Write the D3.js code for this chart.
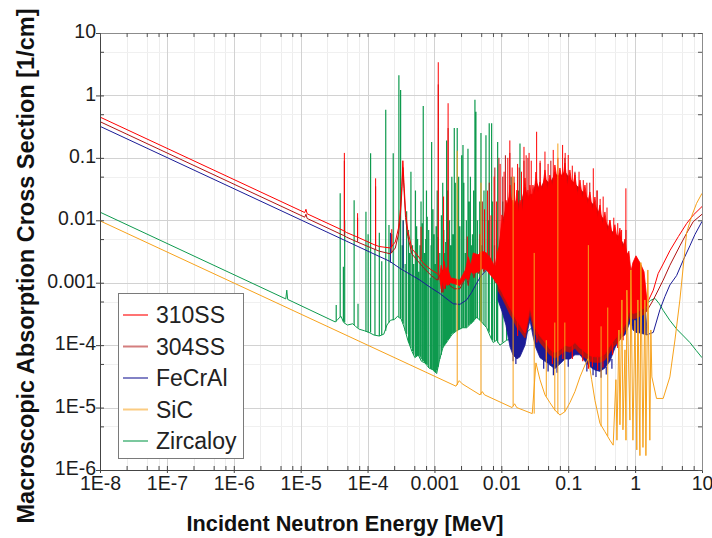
<!DOCTYPE html>
<html>
<head>
<meta charset="utf-8">
<script src="https://cdn.jsdelivr.net/npm/d3@7"></script>
<style>
  body { margin: 0; background: #fff; }
  svg { display: block; font-family: "Liberation Sans", Arial, sans-serif; }
</style>
</head>
<body>
<svg id="chart" width="712" height="538"></svg>
<script>
// ---- axis ticks ----
const xTickValues = [1e-8, 1e-7, 1e-6, 1e-5, 1e-4, 1e-3, 1e-2, 1e-1, 1, 10];
const xTickLabels = ["1E-8", "1E-7", "1E-6", "1E-5", "1E-4", "0.001", "0.01", "0.1", "1", "10"];
const yTickValues = [1e-6, 1e-5, 1e-4, 1e-3, 1e-2, 1e-1, 1, 10];
const yTickLabels = ["1E-6", "1E-5", "1E-4", "0.001", "0.01", "0.1", "1", "10"];
const xMinorSteps = [2.5, 5, 7.5];
const yMinorSteps = [5];

// ---- series ----
const seriesNames = ["310SS", "304SS", "FeCrAl", "SiC", "Zircaloy"];
const seriesColors = ["#ff0000", "#b01414", "#1b1b96", "#f7a21b", "#0e9a4e"];

// 310SS: [energy MeV, sigma 1/cm]
const s310Low = [
  [1e-8, 0.45], [1.15e-5, 0.0133], [1.2e-5, 0.015], [1.25e-5, 0.0127], [4.4e-5, 0.0068],
  [4.8e-5, 0.0064], [7.0e-5, 0.0054], [1.3e-4, 0.0040], [1.5e-4, 0.0038], [2.2e-4, 0.0036],
  [2.6e-4, 0.0045], [2.9e-4, 0.0075], [3.1e-4, 0.015], [3.25e-4, 0.035], [3.37e-4, 0.09],
  [3.5e-4, 0.04], [3.7e-4, 0.014], [4.0e-4, 0.0068], [4.6e-4, 0.0035], [5.5e-4, 0.0028],
  [7.0e-4, 0.0020], [9.0e-4, 0.0016], [1.1e-3, 0.0014], [1.2e-3, 0.00125]
];
const s310High = [
  [1.5, 4.6e-4], [1.87, 7.6e-4], [2.21, 1.4e-3], [2.63, 2.0e-3], [3.33, 3.3e-3],
  [4.44, 5.5e-3], [5.9, 8.9e-3], [7.4, 0.0121], [10, 0.0166]
];
// dense resonance region: [energy, low, high]
const s310Band = [
  [1.2e-3, 0.0012, 0.0013], [1.26e-3, 0.0008, 0.0019], [1.33e-3, 0.0011, 0.0014], [1.4e-3, 0.0008, 0.0022],
  [1.48e-3, 0.0010, 0.0015], [1.55e-3, 0.0009, 0.0018], [1.75e-3, 0.0010, 0.0012], [2.4e-3, 0.0009, 0.0011],
  [2.9e-3, 0.0012, 0.0016], [3.2e-3, 0.0011, 0.0026], [3.5e-3, 0.0015, 0.0019], [3.8e-3, 0.0014, 0.0030],
  [4.5e-3, 0.0015, 0.0028], [5.2e-3, 0.0017, 0.0032], [6.0e-3, 0.0016, 0.0030], [7.0e-3, 0.0013, 0.0024],
  [8.0e-3, 0.0011, 0.0018],
  [0.0089, 9.2e-4, 0.0033], [0.0095, 8e-4, 0.004], [0.0102, 7.1e-4, 0.0122], [0.0109, 6e-4, 0.008],
  [0.0117, 5.3e-4, 0.0211], [0.0126, 4.5e-4, 0.016], [0.0135, 3.9e-4, 0.0367], [0.0142, 3.6e-4, 0.018],
  [0.0149, 3.2e-4, 0.0211], [0.016, 2.8e-4, 0.014], [0.0171, 2.4e-4, 0.0305], [0.018, 2.3e-4, 0.013],
  [0.0190, 2.1e-4, 0.0211], [0.0207, 1.8e-4, 0.014], [0.0226, 1.57e-4, 0.0476], [0.0238, 2.0e-4, 0.02],
  [0.0250, 2.7e-4, 0.0305], [0.0259, 3.4e-4, 0.02], [0.0268, 4.1e-4, 0.0367], [0.0282, 3.2e-4, 0.02],
  [0.0297, 2.5e-4, 0.0367], [0.0313, 2.1e-4, 0.025], [0.0329, 1.8e-4, 0.0593], [0.0353, 1.6e-4, 0.028],
  [0.0378, 1.4e-4, 0.041], [0.0412, 1.25e-4, 0.03], [0.0449, 1.1e-4, 0.064], [0.0489, 1.0e-4, 0.03],
  [0.0532, 8.6e-5, 0.0531], [0.058, 8e-5, 0.035], [0.0632, 7.6e-5, 0.0769], [0.069, 8e-5, 0.04],
  [0.0752, 8.5e-5, 0.0689], [0.082, 9e-5, 0.04], [0.0893, 1.0e-4, 0.0828], [0.097, 9.7e-5, 0.035],
  [0.106, 9.5e-5, 0.064], [0.1155, 1.0e-4, 0.032], [0.126, 1.1e-4, 0.0531], [0.1375, 1.0e-4, 0.026],
  [0.150, 9.0e-5, 0.0442], [0.163, 8.5e-5, 0.022], [0.178, 7.8e-5, 0.0367], [0.194, 7.3e-5, 0.018],
  [0.211, 6.8e-5, 0.0284], [0.23, 6.6e-5, 0.014], [0.251, 6.5e-5, 0.0236], [0.273, 6.5e-5, 0.011],
  [0.298, 6.5e-5, 0.0176], [0.325, 6.8e-5, 0.0085], [0.354, 7.2e-5, 0.0136], [0.386, 8.5e-5, 0.0065],
  [0.420, 9.7e-5, 0.0101], [0.458, 1.1e-4, 0.0055], [0.499, 1.25e-4, 0.0085], [0.544, 1.4e-4, 0.0045],
  [0.593, 1.5e-4, 0.0075], [0.647, 1.8e-4, 0.0035], [0.705, 2.1e-4, 0.005], [0.754, 2.6e-4, 0.0028],
  [0.807, 3.2e-4, 0.0032], [0.865, 3.9e-4, 0.0015], [0.927, 3.2e-4, 0.0021], [1.03, 3.3e-4, 0.0027],
  [1.18, 3.6e-4, 0.0021], [1.36, 3.9e-4, 0.0015], [1.50, 4.4e-4, 5.3e-4]
];
// narrow resonances: [energy, base, peak]
const s310Peaks = [
  [4.5e-5, 0.0066, 0.12], [7.1e-5, 0.0054, 0.013], [1.32e-4, 0.0040, 0.047], [2.3e-4, 0.0037, 0.0072],
  [6.3e-4, 0.0024, 0.0079], [1.14e-3, 0.0014, 3.4], [1.37e-3, 0.0012, 0.024], [1.6e-3, 0.0013, 0.75],
  [3.1e-3, 0.0014, 0.0055], [4.8e-3, 0.002, 0.006], [5.6e-3, 0.002, 0.015], [6.2e-3, 0.002, 0.03],
  [7.0e-3, 0.0016, 0.012], [7.8e-3, 0.0014, 0.05], [8.5e-3, 0.0013, 0.02], [0.0096, 0.003, 0.08],
  [0.011, 0.005, 0.06], [0.0125, 0.01, 0.1], [0.0134, 0.01, 0.19], [0.0145, 0.01, 0.07],
  [0.0157, 0.01, 0.04], [0.0175, 0.01, 0.08], [0.02, 0.01, 0.06], [0.0218, 0.01, 0.15],
  [0.0235, 0.01, 0.11], [0.026, 0.02, 0.12], [0.028, 0.02, 0.09],
  [0.0337, 0.03, 0.262], [0.038, 0.03, 0.09], [0.0449, 0.03, 0.126], [0.05, 0.03, 0.08],
  [0.0597, 0.04, 0.134], [0.07, 0.04, 0.10], [0.0824, 0.04, 0.161], [0.09, 0.04, 0.12],
  [0.100, 0.04, 0.111], [0.115, 0.03, 0.075], [0.126, 0.03, 0.057], [0.145, 0.03, 0.06],
  [0.168, 0.02, 0.044], [0.19, 0.02, 0.04], [0.237, 0.015, 0.068], [0.27, 0.012, 0.03],
  [0.3, 0.012, 0.022], [0.333, 0.01, 0.024], [0.38, 0.008, 0.016], [0.42, 0.007, 0.0101],
  [0.48, 0.006, 0.011], [0.55, 0.005, 0.009], [0.628, 0.004, 0.007], [0.728, 0.003, 0.0325]
];
// deep minima below the band: [energy, from, to]
const s310Troughs = [
  [0.0175, 3e-4, 1.4e-4], [0.034, 2e-4, 1.1e-4], [0.047, 1.1e-4, 6e-5], [0.058, 9e-5, 5e-5],
  [0.07, 9e-5, 5.5e-5], [0.083, 1e-4, 6e-5], [0.115, 1e-4, 6e-5], [0.165, 9e-5, 5.5e-5],
  [0.2, 7e-5, 4.2e-5], [0.23, 7e-5, 4.5e-5], [0.275, 6.5e-5, 4e-5], [0.33, 7e-5, 4.4e-5],
  [0.39, 9e-5, 5.5e-5], [0.46, 1.1e-4, 7e-5], [0.55, 1.4e-4, 9e-5], [0.66, 1.8e-4, 1.2e-4]
];

// 304SS
const s304Low = [
  [1e-8, 0.38], [1.15e-5, 0.0112], [1.2e-5, 0.0125], [1.25e-5, 0.0107], [4.4e-5, 0.0057],
  [4.8e-5, 0.0054], [7.0e-5, 0.0045], [1.3e-4, 0.0034], [1.5e-4, 0.0032], [2.2e-4, 0.0029],
  [2.6e-4, 0.0036], [2.9e-4, 0.006], [3.1e-4, 0.012], [3.25e-4, 0.028], [3.37e-4, 0.07],
  [3.5e-4, 0.032], [3.7e-4, 0.011], [4.0e-4, 0.0055], [4.6e-4, 0.0029], [5.5e-4, 0.0023],
  [7.0e-4, 0.0017], [9.0e-4, 0.0013], [1.1e-3, 0.0011], [1.25e-3, 0.0014], [1.28e-3, 0.0007],
  [1.31e-3, 0.0016], [1.34e-3, 0.0007], [1.4e-3, 0.0017], [1.45e-3, 0.0008], [1.5e-3, 0.0015],
  [1.7e-3, 0.0009], [2.0e-3, 0.0008], [2.4e-3, 0.0008], [2.8e-3, 0.0011], [3.0e-3, 0.0013],
  [3.2e-3, 0.0009], [3.5e-3, 0.0018], [3.9e-3, 0.0012], [4.2e-3, 0.0018], [4.6e-3, 0.0014],
  [5.0e-3, 0.0020], [5.5e-3, 0.0015], [6.0e-3, 0.0020], [6.6e-3, 0.0014], [7.4e-3, 0.0013],
  [8.2e-3, 0.0010], [8.9e-3, 0.0011]
];
const s304High = [
  [1.49, 3.5e-4], [1.87, 5.3e-4], [2.63, 1.1e-3], [3.31, 1.9e-3], [4.67, 3.9e-3],
  [5.89, 6.2e-3], [7.39, 9.5e-3], [10, 0.0125]
];
const s304Band = [
  [0.0089, 7.6e-4, 0.0026], [0.0102, 5.8e-4, 0.009], [0.0117, 4.3e-4, 0.015], [0.0135, 3.1e-4, 0.026],
  [0.0149, 2.6e-4, 0.016], [0.0171, 1.9e-4, 0.022], [0.0190, 1.7e-4, 0.016], [0.0226, 1.3e-4, 0.034],
  [0.0250, 2.2e-4, 0.022], [0.0268, 3.3e-4, 0.026], [0.0297, 2.0e-4, 0.026], [0.0329, 1.45e-4, 0.042],
  [0.0378, 1.1e-4, 0.03], [0.0449, 8.8e-5, 0.046], [0.0532, 7.0e-5, 0.038], [0.0632, 6.2e-5, 0.055],
  [0.0752, 6.9e-5, 0.05], [0.0893, 8.1e-5, 0.06], [0.106, 7.7e-5, 0.046], [0.126, 8.9e-5, 0.038],
  [0.150, 7.3e-5, 0.032], [0.178, 6.3e-5, 0.026], [0.211, 5.5e-5, 0.02], [0.251, 5.3e-5, 0.017],
  [0.298, 5.3e-5, 0.0125], [0.354, 5.8e-5, 0.0097], [0.420, 7.8e-5, 0.0072], [0.499, 1.0e-4, 0.0060],
  [0.593, 1.2e-4, 0.0054], [0.705, 1.7e-4, 0.0036], [0.807, 2.6e-4, 0.0023], [0.865, 3.1e-4, 0.0011],
  [0.927, 2.6e-4, 0.0015], [1.03, 2.7e-4, 0.0019], [1.18, 2.9e-4, 0.0015], [1.36, 3.1e-4, 0.0011],
  [1.49, 3.5e-4, 4.0e-4]
];
const s304Peaks = [
  [4.5e-5, 0.0056, 0.09], [7.1e-5, 0.0045, 0.011], [1.32e-4, 0.0034, 0.035], [2.3e-4, 0.003, 0.006],
  [1.14e-3, 0.0011, 1.5], [1.6e-3, 0.001, 0.3], [5.2e-3, 0.0018, 0.02], [6.6e-3, 0.0015, 0.04],
  [8.0e-3, 0.0012, 0.07], [9.2e-3, 0.002, 0.1], [0.0105, 0.004, 0.05], [0.0115, 0.005, 0.11],
  [0.0134, 0.008, 0.12], [0.0155, 0.008, 0.05], [0.0185, 0.008, 0.07], [0.0218, 0.008, 0.09],
  [0.025, 0.015, 0.1], [0.038, 0.02, 0.083], [0.055, 0.02, 0.09], [0.089, 0.03, 0.1],
  [0.126, 0.03, 0.06], [0.21, 0.015, 0.04], [0.27, 0.012, 0.03], [0.73, 0.003, 0.007]
];

// FeCrAl
const feLow = [
  [1e-8, 0.32], [2.15e-4, 0.0022], [3.05e-4, 0.0017], [6.07e-4, 0.0011], [9e-4, 8.2e-4],
  [1.21e-3, 6.7e-4], [1.6e-3, 5.3e-4], [1.91e-3, 4.6e-4], [2.4e-3, 4.5e-4], [3.03e-3, 5.3e-4],
  [3.6e-3, 7e-4], [4.27e-3, 9.8e-4], [5e-3, 1.3e-3], [6.03e-3, 1.6e-3], [7.57e-3, 1.6e-3],
  [8.2e-3, 1.2e-3], [8.9e-3, 9e-4]
];
const feHigh = [
  [1.49, 1.46e-4], [1.87, 1.6e-4], [2.35, 3.7e-4], [2.79, 6.0e-4], [3.31, 9.2e-4],
  [4.17, 1.3e-3], [5.24, 2.3e-3], [6.59, 3.9e-3], [7.83, 5.9e-3], [10, 9.6e-3]
];
const feBand = [
  [0.0089, 5.3e-4, 0.0012], [0.0102, 3.5e-4, 0.005], [0.0117, 2.1e-4, 0.009], [0.0135, 9.3e-5, 0.014],
  [0.0149, 7e-5, 0.009], [0.0171, 6e-5, 0.012], [0.0190, 6.5e-5, 0.009], [0.0226, 1.0e-4, 0.018],
  [0.0250, 1.8e-4, 0.012], [0.0268, 2.5e-4, 0.014], [0.0297, 1.4e-4, 0.014], [0.0329, 9e-5, 0.022],
  [0.0378, 6.3e-5, 0.016], [0.0449, 5.5e-5, 0.024], [0.0532, 4.8e-5, 0.02], [0.0632, 4.2e-5, 0.028],
  [0.0752, 5e-5, 0.026], [0.0893, 6e-5, 0.03], [0.106, 6e-5, 0.024], [0.126, 7e-5, 0.02],
  [0.150, 7e-5, 0.016], [0.178, 5.5e-5, 0.013], [0.211, 4.5e-5, 0.01], [0.251, 4e-5, 0.0085],
  [0.298, 3.8e-5, 0.0065], [0.354, 4.3e-5, 0.005], [0.420, 5.5e-5, 0.0038], [0.499, 9e-5, 0.0028],
  [0.593, 1.3e-4, 0.0028], [0.705, 1.46e-4, 0.002], [0.807, 2.1e-4, 0.0014], [0.865, 2.5e-4, 7e-4],
  [0.927, 1.75e-4, 9e-4], [1.03, 1.6e-4, 0.0011], [1.18, 1.57e-4, 9e-4], [1.36, 1.5e-4, 7e-4],
  [1.49, 1.46e-4, 2e-4]
];
const fePeaks = [
  [2.2e-4, 0.0021, 0.0063], [3.4e-4, 0.0017, 0.01]
];
const feTroughs = [
  [0.015, 8e-5, 5.5e-5], [0.0165, 7e-5, 5e-5], [0.043, 6e-5, 4.2e-5], [0.05, 5e-5, 3.8e-5],
  [0.06, 4.5e-5, 3.3e-5], [0.068, 5e-5, 3.6e-5], [0.1, 6e-5, 4.5e-5], [0.19, 5.5e-5, 3.8e-5],
  [0.235, 4.5e-5, 3.3e-5], [0.26, 4e-5, 3.1e-5], [0.31, 4e-5, 3.0e-5], [0.37, 4.5e-5, 3.4e-5],
  [0.45, 6e-5, 4.2e-5]
];

// SiC
const sicCurve = [
  [1e-8, 0.0098], [2.1e-3, 2.2e-5], [2.35e-3, 2.7e-5], [2.6e-3, 2.4e-5], [4.8e-3, 1.6e-5],
  [5.2e-3, 1.8e-5], [5.6e-3, 1.6e-5], [0.0145, 1.0e-5], [0.0158, 1.15e-5], [0.017, 1.0e-5],
  [0.029, 8e-6], [0.0329, 5.2e-5], [0.0378, 2.8e-5], [0.0449, 1.6e-5], [0.0532, 1.2e-5],
  [0.0632, 9.1e-6], [0.0752, 7.6e-6], [0.0893, 8.6e-6], [0.106, 1.2e-5], [0.126, 1.8e-5],
  [0.150, 3.1e-5], [0.178, 4.8e-5], [0.2, 6.2e-5], [0.224, 2.8e-5], [0.251, 1.3e-5],
  [0.298, 5.6e-6], [0.354, 4.1e-6], [0.42, 3.0e-6], [0.47, 2.5e-6], [0.516, 2.8e-5],
  [0.535, 3.0e-6], [0.573, 1.75e-4], [0.593, 5.3e-6], [0.635, 5.3e-4], [0.658, 4.4e-6],
  [0.705, 8.4e-5], [0.73, 3.0e-6], [0.753, 7.6e-4], [0.836, 6.3e-6], [0.865, 1.6e-3],
  [0.927, 3.0e-6], [0.993, 2.5e-4], [1.06, 2.1e-6], [1.10, 5.3e-4], [1.18, 1.7e-6],
  [1.22, 2.1e-3], [1.31, 2.3e-6], [1.40, 5.3e-4], [1.45, 1.7e-6], [1.55, 1.6e-3],
  [1.66, 3.0e-6], [1.72, 1.75e-4], [1.78, 3.1e-5], [2.09, 1.4e-5], [2.63, 1.4e-5],
  [3.31, 3.1e-5], [3.94, 1.21e-4], [4.67, 5.3e-4], [5.89, 6.3e-3], [6.98, 0.0115],
  [8.3, 0.0187], [10, 0.027]
];
const sicPeaks = [
  [2.19e-3, 2.3e-5, 0.13], [4.96e-3, 1.6e-5, 0.04], [0.015, 1.05e-5, 0.05], [0.031, 8e-6, 0.003],
  [0.047, 1.5e-5, 1.2e-4], [0.063, 9e-6, 2.3e-4], [0.07, 8e-6, 0.17], [0.089, 8.6e-6, 2.3e-4],
  [0.2, 6.2e-5, 0.004], [0.31, 5e-6, 2e-4], [0.39, 3.5e-6, 4e-4]
];

// Zircaloy
const zircCurve = [
  [1e-8, 0.0135], [6.0e-6, 5.5e-4], [6.2e-6, 7.6e-4], [6.4e-6, 5.4e-4], [3.3e-5, 2.35e-4],
  [3.6e-5, 2.6e-4], [4.0e-5, 2.9e-4], [4.4e-5, 2.3e-4], [5.0e-5, 2.1e-4], [6.0e-5, 2.2e-4],
  [6.6e-5, 2.0e-4], [7.5e-5, 1.8e-4], [9.0e-5, 1.7e-4], [1.05e-4, 1.6e-4], [1.25e-4, 1.45e-4],
  [1.5e-4, 1.4e-4], [1.75e-4, 1.5e-4], [1.95e-4, 2.1e-4], [2.2e-4, 2.5e-4], [2.55e-4, 2.6e-4],
  [2.8e-4, 2.9e-4], [3.2e-4, 2.6e-4], [3.6e-4, 1.8e-4], [4.0e-4, 1.2e-4], [4.6e-4, 8e-5],
  [5.1e-4, 6.3e-5], [5.7e-4, 7e-5], [6.4e-4, 5.5e-5], [7.2e-4, 5.2e-5], [8.3e-4, 4.3e-5],
  [9.6e-4, 4e-5], [1.08e-3, 3.5e-5], [1.2e-3, 6e-5], [1.35e-3, 9.4e-5], [1.6e-3, 1.2e-4],
  [1.85e-3, 1.5e-4], [2.15e-3, 1.7e-4], [2.6e-3, 1.9e-4], [3.03e-3, 1.9e-4], [3.5e-3, 2.2e-4],
  [4.27e-3, 2.8e-4], [5.0e-3, 2.4e-4], [6.03e-3, 1.9e-4], [7.0e-3, 1.3e-4], [7.57e-3, 1.1e-4],
  [8.5e-3, 1.2e-4], [9.53e-3, 1.0e-4], [0.012, 1.2e-4], [0.016, 1.3e-4], [0.021, 1.4e-4],
  [0.03, 2e-4], [0.06, 2.5e-4], [0.2, 3e-4], [0.6, 3.5e-4], [1.2, 4e-4], [1.49, 4.6e-4],
  [1.7, 5.2e-4], [1.98, 5.6e-4], [2.3, 4.6e-4], [2.63, 3.6e-4], [3.3, 2.5e-4], [4.2, 1.8e-4],
  [5.3, 1.4e-4], [6.6, 1.1e-4], [8.2, 8.2e-5], [10, 6.3e-5]
];
const zircPeaks = [
  [3.4e-5, 2.4e-4, 4.4e-4], [3.9e-5, 2.8e-4, 0.027], [4.35e-5, 2.4e-4, 1.8e-3], [4.55e-5, 2.3e-4, 0.010],
  [6.3e-5, 2.1e-4, 0.021], [7.2e-5, 1.9e-4, 4.6e-4], [9.46e-5, 1.65e-4, 0.0137], [1.02e-4, 1.6e-4, 0.006],
  [1.11e-4, 1.6e-4, 0.118], [1.29e-4, 1.45e-4, 0.0035], [1.5e-4, 1.4e-4, 0.0063], [1.63e-4, 1.45e-4, 0.0022],
  [1.87e-4, 1.7e-4, 0.59], [2.09e-4, 2.3e-4, 0.0084], [2.42e-4, 2.5e-4, 0.118], [2.94e-4, 2.8e-4, 2.1],
  [3.12e-4, 2.7e-4, 1.22], [3.3e-4, 2.4e-4, 0.004], [3.42e-4, 2.2e-4, 0.010], [3.65e-4, 1.7e-4, 0.002],
  [3.84e-4, 1.5e-4, 0.014], [4.1e-4, 1.1e-4, 0.007], [4.25e-4, 1e-4, 0.003], [4.45e-4, 9e-5, 0.06],
  [4.7e-4, 8e-5, 0.004], [4.9e-4, 7e-5, 0.002], [5.2e-4, 6.5e-5, 0.03], [5.42e-4, 6.5e-5, 0.008],
  [5.6e-4, 6.8e-5, 0.005], [5.8e-4, 6.8e-5, 0.0015], [6.07e-4, 6.5e-5, 0.004], [6.3e-4, 6e-5, 0.02],
  [6.6e-4, 5.6e-5, 0.009], [6.8e-4, 5.5e-5, 0.68], [7.1e-4, 5.2e-5, 0.003], [7.4e-4, 5e-5, 0.005],
  [7.6e-4, 5e-5, 0.03], [7.8e-4, 4.8e-5, 0.0114], [8.2e-4, 4.4e-5, 0.007], [8.7e-4, 4.2e-5, 0.0012],
  [8.9e-4, 4.2e-5, 0.004], [9.08e-4, 4.1e-5, 0.18], [9.5e-4, 4e-5, 0.015], [9.9e-4, 3.8e-5, 0.006],
  [1.03e-3, 3.7e-5, 0.002], [1.06e-3, 3.6e-5, 0.008], [1.1e-3, 4e-5, 0.03], [1.14e-3, 4.5e-5, 0.0054],
  [1.2e-3, 6e-5, 0.003], [1.27e-3, 7e-5, 0.012], [1.33e-3, 9e-5, 0.04], [1.38e-3, 9.5e-5, 0.007],
  [1.42e-3, 1e-4, 0.003], [1.47e-3, 1.05e-4, 0.0045], [1.52e-3, 1.1e-4, 0.19], [1.58e-3, 1.2e-4, 0.03],
  [1.63e-3, 1.25e-4, 0.005], [1.68e-3, 1.3e-4, 0.010], [1.75e-3, 1.4e-4, 0.004], [1.82e-3, 1.5e-4, 0.05],
  [1.9e-3, 1.55e-4, 0.006], [1.98e-3, 1.6e-4, 0.30], [2.05e-3, 1.65e-4, 0.04], [2.19e-3, 1.7e-4, 0.30],
  [2.3e-3, 1.75e-4, 0.05], [2.4e-3, 1.8e-4, 0.008], [2.55e-3, 1.85e-4, 0.11], [2.67e-3, 1.9e-4, 0.16],
  [2.75e-3, 1.9e-4, 0.04], [2.9e-3, 1.9e-4, 0.003], [3.0e-3, 1.9e-4, 0.01], [3.17e-3, 2e-4, 0.14],
  [3.3e-3, 2.1e-4, 0.02], [3.45e-3, 2.2e-4, 0.05], [3.55e-3, 2.2e-4, 0.004], [3.7e-3, 2.3e-4, 0.006],
  [3.85e-3, 2.4e-4, 0.03], [4.03e-3, 2.6e-4, 0.85], [4.17e-3, 2.7e-4, 0.55], [4.4e-3, 2.7e-4, 0.010],
  [4.75e-3, 2.5e-4, 0.02], [4.96e-3, 2.4e-4, 0.25], [5.1e-3, 2.3e-4, 0.004], [5.5e-3, 2.1e-4, 0.03],
  [5.89e-3, 1.95e-4, 0.23], [6.4e-3, 1.7e-4, 0.010], [6.59e-3, 1.6e-4, 0.36], [7.16e-3, 1.25e-4, 0.36],
  [7.4e-3, 1.2e-4, 0.02], [7.9e-3, 1.15e-4, 0.004], [8.5e-3, 1.2e-4, 0.010], [8.81e-3, 1.1e-4, 0.18],
  [0.0105, 1.1e-4, 0.02], [0.012, 1.2e-4, 0.004], [0.014, 1.25e-4, 0.05], [0.016, 1.3e-4, 0.006],
  [0.018, 1.35e-4, 0.03], [0.019, 1.4e-4, 0.17]
];

// ---- layout ----
const svg = d3.select("#chart");
const X0 = 100, X1 = 702, Y0 = 33, Y1 = 470;
const x = d3.scaleLog().domain([1e-8, 10]).range([X0, X1]);
const y = d3.scaleLog().domain([1e-6, 10]).range([Y1, Y0]);
const col = name => seriesColors[seriesNames.indexOf(name)];

svg.append("rect").attr("width", 712).attr("height", 538).attr("fill", "#fff");

const xMinor = [];
xTickValues.slice(0, -1).forEach(v => xMinorSteps.forEach(m => xMinor.push(v * m)));
const yMinor = [];
yTickValues.slice(0, -1).forEach(v => yMinorSteps.forEach(m => yMinor.push(v * m)));

// grid
const grid = svg.append("g").attr("shape-rendering", "crispEdges");
grid.selectAll(".vx").data(xMinor).join("line")
  .attr("x1", d => Math.round(x(d)) + 0.5).attr("x2", d => Math.round(x(d)) + 0.5)
  .attr("y1", Y0).attr("y2", Y1).attr("stroke", "#ededed");
grid.selectAll(".hy").data(yMinor).join("line")
  .attr("y1", d => Math.round(y(d)) + 0.5).attr("y2", d => Math.round(y(d)) + 0.5)
  .attr("x1", X0).attr("x2", X1).attr("stroke", "#f0f0f0");
grid.selectAll(".vX").data(xTickValues).join("line")
  .attr("x1", d => Math.round(x(d)) + 0.5).attr("x2", d => Math.round(x(d)) + 0.5)
  .attr("y1", Y0).attr("y2", Y1).attr("stroke", "#d2d2d2");
grid.selectAll(".hY").data(yTickValues).join("line")
  .attr("y1", d => Math.round(y(d)) + 0.5).attr("y2", d => Math.round(y(d)) + 0.5)
  .attr("x1", X0).attr("x2", X1).attr("stroke", "#d2d2d2");

// data layer
svg.append("clipPath").attr("id", "plotclip").append("rect")
  .attr("x", X0).attr("y", Y0).attr("width", X1 - X0).attr("height", Y1 - Y0);
const plot = svg.append("g").attr("clip-path", "url(#plotclip)");

const line = d3.line().x(d => x(d[0])).y(d => y(d[1]));
const band = d3.area().x(d => x(d[0])).y0(d => y(d[1])).y1(d => y(d[2]));
const sticks = rows => rows.map(r => line([[r[0], r[1]], [r[0], r[2]]])).join("");

function drawCurve(data, color, w) {
  plot.append("path").attr("d", line(data)).attr("fill", "none")
    .attr("stroke", color).attr("stroke-width", w || 1).attr("stroke-linejoin", "round");
}
function drawSticks(rows, color, w) {
  plot.append("path").attr("d", sticks(rows)).attr("fill", "none")
    .attr("stroke", color).attr("stroke-width", w || 1);
}
function drawBand(rows, color) {
  plot.append("path").attr("d", band(rows)).attr("fill", color)
    .attr("stroke", color).attr("stroke-width", 0.8).attr("stroke-linejoin", "round");
}

// Zircaloy
drawCurve(zircCurve, col("Zircaloy"));
drawSticks(zircPeaks, col("Zircaloy"), 1.2);

// FeCrAl
drawBand(feBand, col("FeCrAl"));
drawSticks(feTroughs, col("FeCrAl"), 1.2);
drawCurve(feLow, col("FeCrAl"));
drawCurve(feHigh, col("FeCrAl"));
drawSticks(fePeaks, col("FeCrAl"));

// 304SS
drawBand(s304Band, col("304SS"));
drawCurve(s304Low, col("304SS"));
drawCurve(s304High, col("304SS"));
drawSticks(s304Peaks, col("304SS"));

// 310SS
drawBand(s310Band, col("310SS"));
drawSticks(s310Troughs, col("310SS"), 1.2);
drawCurve(s310Low, col("310SS"));
drawCurve(s310High, col("310SS"));
drawSticks(s310Peaks, col("310SS"));

// SiC
drawCurve(sicCurve, col("SiC"));
drawSticks(sicPeaks, col("SiC"));

// ---- axes ----
const font = '"Liberation Sans", Arial, sans-serif';
function styleAxis(g, color) {
  g.attr("font-family", font).attr("font-size", 19.5);
  g.select(".domain").attr("stroke", color);
  g.selectAll(".tick line").attr("stroke", color);
  g.selectAll(".tick text").attr("fill", "#1c1c1c");
}
const allX = xTickValues.concat(xMinor);
const allY = yTickValues.concat(yMinor);

// bottom: labels with outward major ticks, then inward ticks
const gxb = svg.append("g").attr("transform", `translate(0,${Y1})`)
  .call(d3.axisBottom(x).tickValues(xTickValues).tickFormat((d, i) => xTickLabels[i])
    .tickSizeInner(3).tickSizeOuter(0).tickPadding(3));
styleAxis(gxb, "#444");
svg.append("g").attr("transform", `translate(0,${Y1})`)
  .call(d3.axisBottom(x).tickValues(allX).tickFormat("").tickSize(-4))
  .call(g => { g.select(".domain").remove(); g.selectAll(".tick line").attr("stroke", "#444"); });

// left
const gyl = svg.append("g").attr("transform", `translate(${X0},0)`)
  .call(d3.axisLeft(y).tickValues(yTickValues).tickFormat((d, i) => yTickLabels[i])
    .tickSizeInner(4).tickSizeOuter(0).tickPadding(0));
styleAxis(gyl, "#444");
gyl.selectAll(".tick text").attr("dy", "0.24em");
svg.append("g").attr("transform", `translate(${X0},0)`)
  .call(d3.axisLeft(y).tickValues(allY).tickFormat("").tickSize(-4))
  .call(g => { g.select(".domain").remove(); g.selectAll(".tick line").attr("stroke", "#444"); });

// top and right: inward ticks only
svg.append("g").attr("transform", `translate(0,${Y0})`)
  .call(d3.axisTop(x).tickValues(allX).tickFormat("").tickSizeInner(-4).tickSizeOuter(0))
  .call(g => { g.select(".domain").attr("stroke", "#8c8c8c"); g.selectAll(".tick line").attr("stroke", "#555"); });
svg.append("g").attr("transform", `translate(${X1},0)`)
  .call(d3.axisRight(y).tickValues(allY).tickFormat("").tickSizeInner(-4).tickSizeOuter(0))
  .call(g => { g.select(".domain").attr("stroke", "#8c8c8c"); g.selectAll(".tick line").attr("stroke", "#555"); });

// titles
svg.append("text").attr("x", 345).attr("y", 531).attr("text-anchor", "middle")
  .attr("font-family", font).attr("font-weight", "bold").attr("font-size", 21.7).attr("fill", "#111")
  .text("Incident Neutron Energy [MeV]");
svg.append("text").attr("transform", "translate(34,266) rotate(-90)").attr("text-anchor", "middle")
  .attr("font-family", font).attr("font-weight", "bold").attr("font-size", 23.5).attr("fill", "#111")
  .text("Macroscopic Absorption Cross Section [1/cm]");

// legend
const lg = svg.append("g");
lg.append("rect").attr("x", 118.5).attr("y", 293.5).attr("width", 125).attr("height", 165)
  .attr("fill", "#fff").attr("stroke", "#7a7a7a");
seriesNames.forEach((name, i) => {
  const cy = 315 + i * 31.5;
  lg.append("line").attr("x1", 123).attr("x2", 148).attr("y1", cy).attr("y2", cy)
    .attr("stroke", seriesColors[i]).attr("stroke-width", 2).attr("stroke-opacity", 0.55);
  lg.append("text").attr("x", 156).attr("y", cy + 8).attr("font-family", font)
    .attr("font-size", 23).attr("fill", "#222").text(name);
});
</script>
</body>
</html>
